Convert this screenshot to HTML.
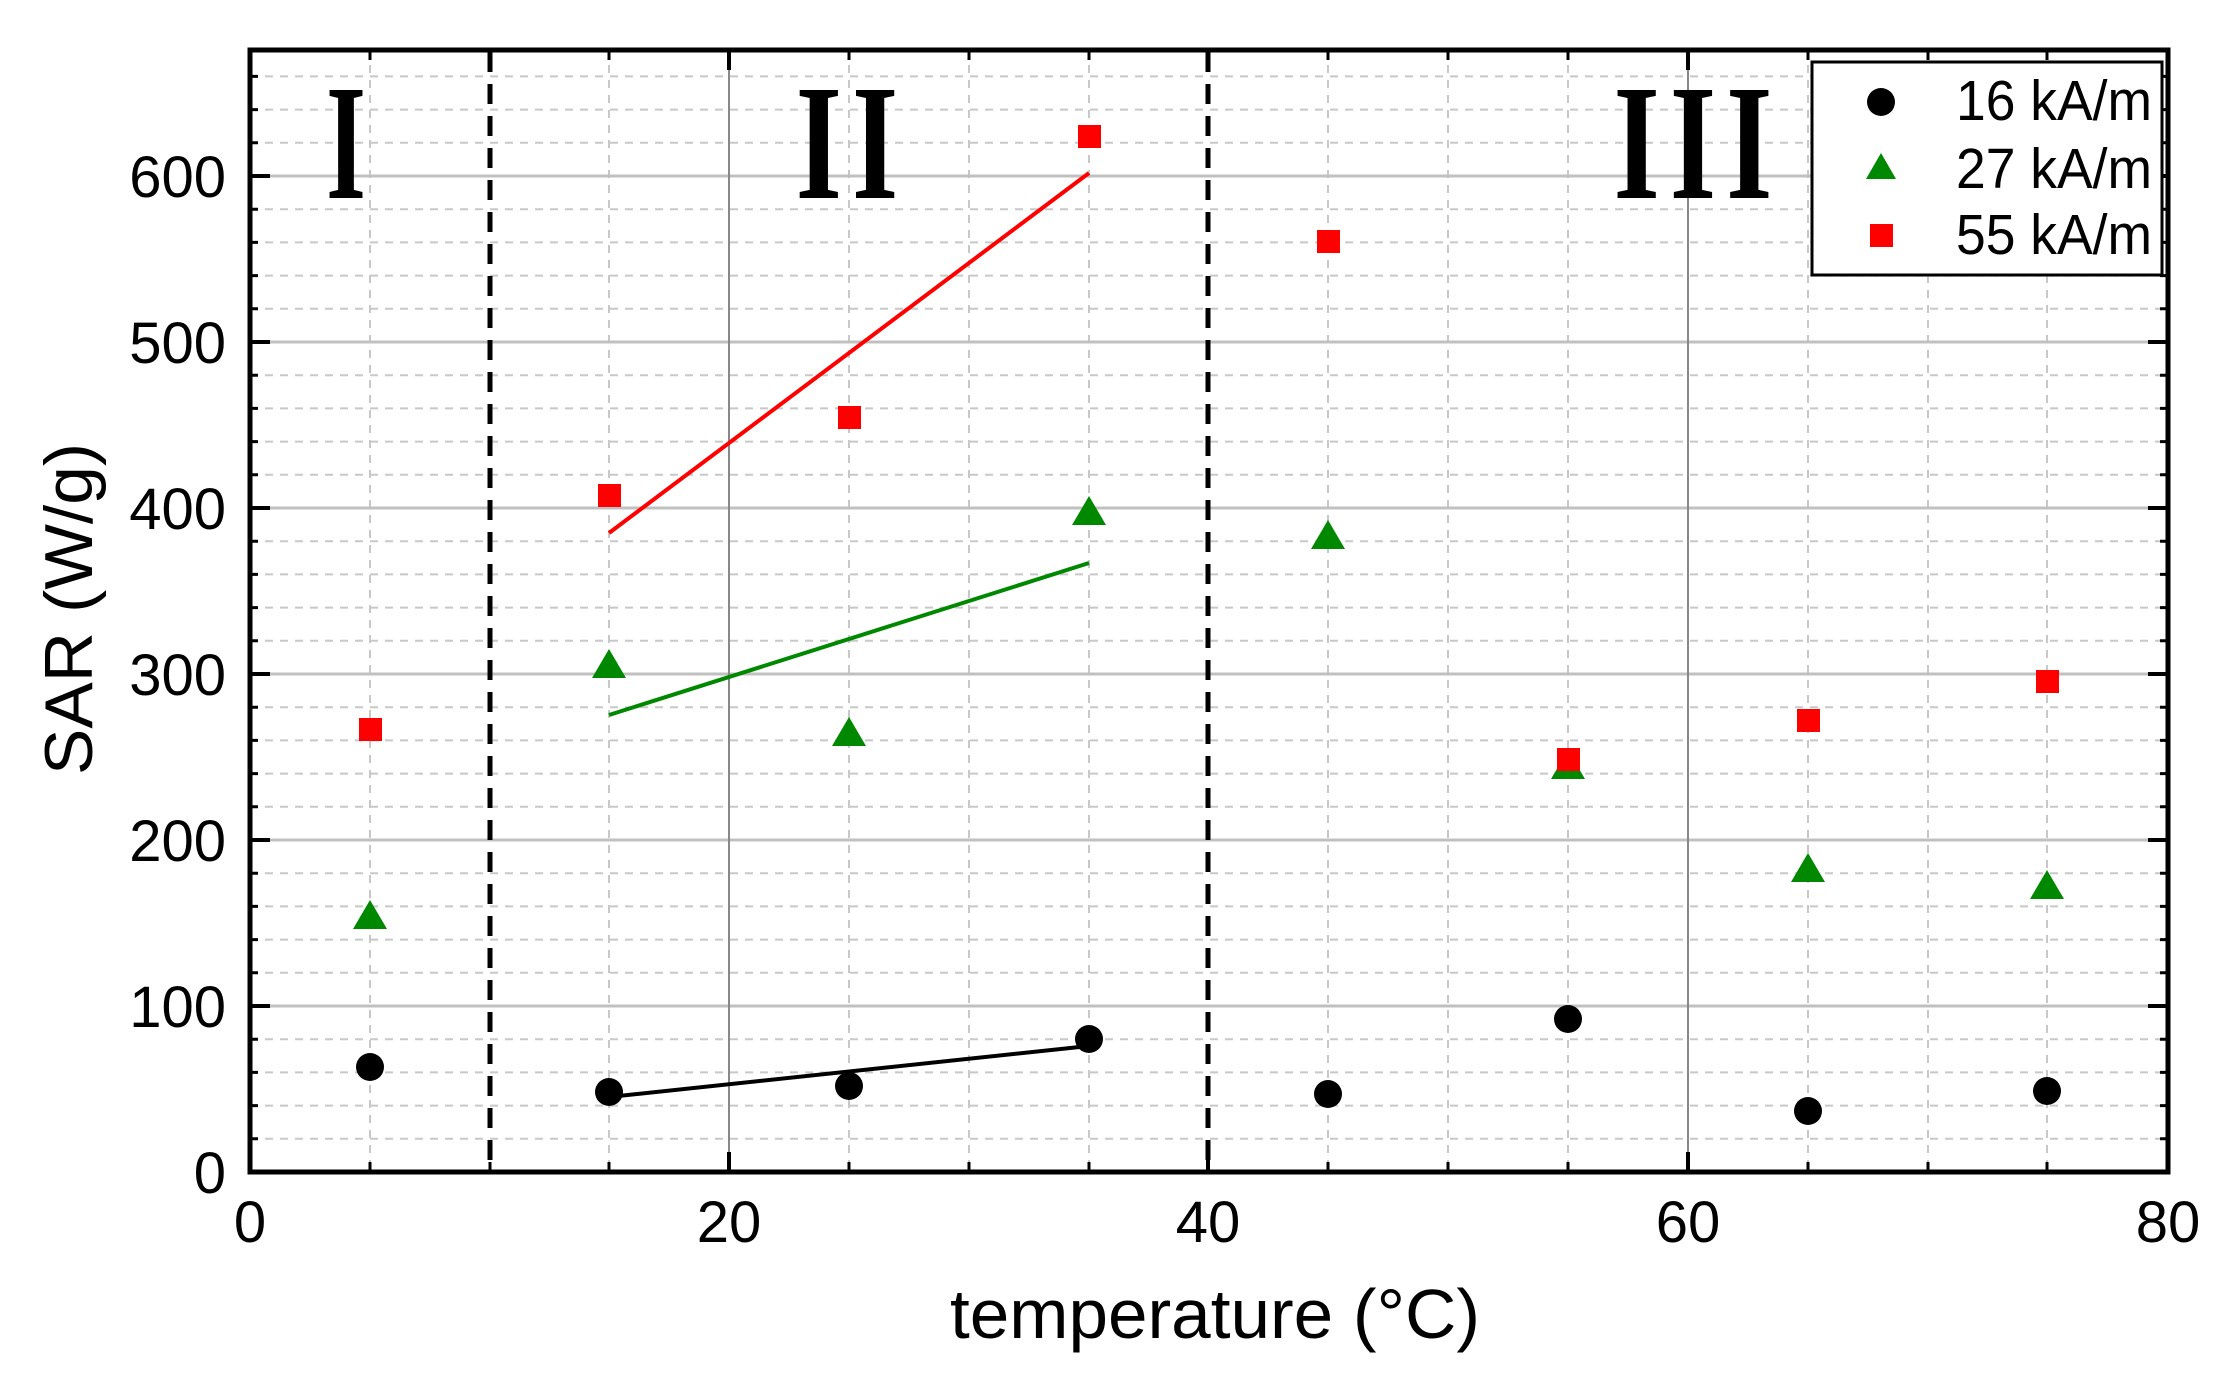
<!DOCTYPE html>
<html><head><meta charset="utf-8"><style>body{margin:0;background:#fff}svg{display:block}</style></head>
<body>
<svg width="2230" height="1384" viewBox="0 0 2230 1384" xmlns="http://www.w3.org/2000/svg" font-family="Liberation Sans, Arial, sans-serif">
<rect width="2230" height="1384" fill="#fff"/>
<g id="grid">
<g stroke="#c8c8c8" stroke-width="2" stroke-dasharray="8,7">
<line x1="250" x2="2168" y1="1138.8" y2="1138.8"/><line x1="250" x2="2168" y1="1105.6" y2="1105.6"/><line x1="250" x2="2168" y1="1072.4" y2="1072.4"/><line x1="250" x2="2168" y1="1039.2" y2="1039.2"/>
<line x1="250" x2="2168" y1="972.8" y2="972.8"/><line x1="250" x2="2168" y1="939.6" y2="939.6"/><line x1="250" x2="2168" y1="906.4" y2="906.4"/><line x1="250" x2="2168" y1="873.2" y2="873.2"/>
<line x1="250" x2="2168" y1="806.8" y2="806.8"/><line x1="250" x2="2168" y1="773.6" y2="773.6"/><line x1="250" x2="2168" y1="740.4" y2="740.4"/><line x1="250" x2="2168" y1="707.2" y2="707.2"/>
<line x1="250" x2="2168" y1="640.8" y2="640.8"/><line x1="250" x2="2168" y1="607.6" y2="607.6"/><line x1="250" x2="2168" y1="574.4" y2="574.4"/><line x1="250" x2="2168" y1="541.2" y2="541.2"/>
<line x1="250" x2="2168" y1="474.8" y2="474.8"/><line x1="250" x2="2168" y1="441.6" y2="441.6"/><line x1="250" x2="2168" y1="408.4" y2="408.4"/><line x1="250" x2="2168" y1="375.2" y2="375.2"/>
<line x1="250" x2="2168" y1="308.8" y2="308.8"/><line x1="250" x2="2168" y1="275.6" y2="275.6"/><line x1="250" x2="2168" y1="242.4" y2="242.4"/><line x1="250" x2="2168" y1="209.2" y2="209.2"/>
<line x1="250" x2="2168" y1="142.8" y2="142.8"/><line x1="250" x2="2168" y1="109.6" y2="109.6"/><line x1="250" x2="2168" y1="76.4" y2="76.4"/>
</g>
<g stroke="#c8c8c8" stroke-width="2" stroke-dasharray="8,7">
<line y1="50" y2="1172" x1="370" x2="370"/><line y1="50" y2="1172" x1="609" x2="609"/><line y1="50" y2="1172" x1="849" x2="849"/><line y1="50" y2="1172" x1="969" x2="969"/><line y1="50" y2="1172" x1="1089" x2="1089"/>
<line y1="50" y2="1172" x1="1328" x2="1328"/><line y1="50" y2="1172" x1="1448" x2="1448"/><line y1="50" y2="1172" x1="1568" x2="1568"/><line y1="50" y2="1172" x1="1808" x2="1808"/><line y1="50" y2="1172" x1="1928" x2="1928"/><line y1="50" y2="1172" x1="2047" x2="2047"/>
</g>
<g stroke="#c0c0c0" stroke-width="3">
<line x1="250" x2="2168" y1="1006" y2="1006"/><line x1="250" x2="2168" y1="840" y2="840"/><line x1="250" x2="2168" y1="674" y2="674"/><line x1="250" x2="2168" y1="508" y2="508"/><line x1="250" x2="2168" y1="342" y2="342"/><line x1="250" x2="2168" y1="176" y2="176"/>
</g>
<g stroke="#888" stroke-width="2">
<line y1="50" y2="1172" x1="729" x2="729"/><line y1="50" y2="1172" x1="1688" x2="1688"/>
</g>
</g>
<g stroke="#000" stroke-width="5" stroke-dasharray="20,12">
<line x1="490" x2="490" y1="52" y2="1172"/><line x1="1208" x2="1208" y1="52" y2="1172"/>
</g>
<g stroke="#000" stroke-width="4">
<path d="M250 1006h20M250 840h20M250 674h20M250 508h20M250 342h20M250 176h20"/>
<path d="M2168 1006h-20M2168 840h-20M2168 674h-20M2168 508h-20M2168 342h-20M2168 176h-20"/>
<path d="M729 1172v-20M1208 1172v-20M1688 1172v-20M729 50v20M1208 50v20M1688 50v20"/>
</g>
<g stroke="#000" stroke-width="3">
<path d="M250 1138.8h8M250 1105.6h8M250 1072.4h8M250 1039.2h8M250 972.8h8M250 939.6h8M250 906.4h8M250 873.2h8M250 806.8h8M250 773.6h8M250 740.4h8M250 707.2h8M250 640.8h8M250 607.6h8M250 574.4h8M250 541.2h8M250 474.8h8M250 441.6h8M250 408.4h8M250 375.2h8M250 308.8h8M250 275.6h8M250 242.4h8M250 209.2h8M250 142.8h8M250 109.6h8M250 76.4h8"/>
<path d="M2168 1138.8h-8M2168 1105.6h-8M2168 1072.4h-8M2168 1039.2h-8M2168 972.8h-8M2168 939.6h-8M2168 906.4h-8M2168 873.2h-8M2168 806.8h-8M2168 773.6h-8M2168 740.4h-8M2168 707.2h-8M2168 640.8h-8M2168 607.6h-8M2168 574.4h-8M2168 541.2h-8M2168 474.8h-8M2168 441.6h-8M2168 408.4h-8M2168 375.2h-8M2168 308.8h-8M2168 275.6h-8M2168 242.4h-8M2168 209.2h-8M2168 142.8h-8M2168 109.6h-8M2168 76.4h-8"/>
<path d="M370 1172v-10M609 1172v-10M849 1172v-10M969 1172v-10M1089 1172v-10M1328 1172v-10M1448 1172v-10M1568 1172v-10M1808 1172v-10M1928 1172v-10M2047 1172v-10M490 1172v-10"/>
<path d="M370 50v10M490 50v10M609 50v10M849 50v10M969 50v10M1089 50v10M1328 50v10M1448 50v10M1568 50v10M1808 50v10M1928 50v10M2047 50v10"/>
</g>
<rect x="250" y="50" width="1918" height="1122" fill="none" stroke="#000" stroke-width="5"/>
<g font-family="Liberation Serif, serif" font-weight="bold" font-size="165" fill="#000">
<text x="0" y="198" transform="translate(346 0) scale(0.62 1)" text-anchor="middle">I</text>
<text x="0" y="198" transform="translate(852 0) scale(0.72 1)" text-anchor="middle" letter-spacing="14">II</text>
<text x="0" y="198" transform="translate(1698 0) scale(0.72 1)" text-anchor="middle" letter-spacing="14">III</text>
</g>
<line x1="609" y1="533" x2="1089" y2="173" stroke="#ff0000" stroke-width="4"/>
<line x1="609" y1="715" x2="1089" y2="563" stroke="#008800" stroke-width="4"/>
<line x1="609" y1="1097" x2="1089" y2="1046" stroke="#000" stroke-width="4"/>
<g fill="#000">
<circle cx="370" cy="1067" r="14"/><circle cx="609" cy="1092" r="14"/><circle cx="849" cy="1086" r="14"/><circle cx="1089" cy="1039" r="14"/>
<circle cx="1328" cy="1094" r="14"/><circle cx="1568" cy="1019" r="14"/><circle cx="1808" cy="1111" r="14"/><circle cx="2047" cy="1091" r="14"/>
</g>
<g fill="#008800">
<path d="M370 900l17 29h-34z"/><path d="M609 649l17 29h-34z"/><path d="M849 717l17 29h-34z"/><path d="M1089 496l17 29h-34z"/>
<path d="M1328 520l17 29h-34z"/><path d="M1568 750l17 29h-34z"/><path d="M1808 853l17 29h-34z"/><path d="M2047 870l17 29h-34z"/>
</g>
<g fill="#ff0000">
<rect x="359" y="718" width="23" height="23"/><rect x="598" y="484" width="23" height="23"/><rect x="838" y="406" width="23" height="23"/><rect x="1078" y="125" width="23" height="23"/>
<rect x="1317" y="230" width="23" height="23"/><rect x="1557" y="748" width="23" height="23"/><rect x="1797" y="709" width="23" height="23"/><rect x="2036" y="670" width="23" height="23"/>
</g>
<rect x="1812" y="62" width="350" height="213" fill="#fff" stroke="#000" stroke-width="3"/>
<circle cx="1881" cy="102" r="14" fill="#000"/>
<path d="M1881 153l15 26h-30z" fill="#008800"/>
<rect x="1870" y="224" width="23" height="23" fill="#ff0000"/>
<g font-size="57" fill="#000" text-anchor="end">
<text x="2152" y="120" textLength="196" lengthAdjust="spacingAndGlyphs">16 kA/m</text>
<text x="2152" y="188" textLength="196" lengthAdjust="spacingAndGlyphs">27 kA/m</text>
<text x="2152" y="254" textLength="196" lengthAdjust="spacingAndGlyphs">55 kA/m</text>
</g>
<g font-size="58" fill="#000" text-anchor="end">
<text x="226" y="1193">0</text><text x="226" y="1027">100</text><text x="226" y="861">200</text><text x="226" y="695">300</text><text x="226" y="529">400</text><text x="226" y="363">500</text><text x="226" y="197">600</text>
</g>
<g font-size="58" fill="#000" text-anchor="middle">
<text x="250" y="1242">0</text><text x="729" y="1242">20</text><text x="1208" y="1242">40</text><text x="1688" y="1242">60</text><text x="2168" y="1242">80</text>
</g>
<text x="1215" y="1338" font-size="70" text-anchor="middle" textLength="530" lengthAdjust="spacingAndGlyphs">temperature (°C)</text>
<text transform="translate(92 609) rotate(-90)" font-size="68" text-anchor="middle" textLength="332" lengthAdjust="spacingAndGlyphs">SAR (W/g)</text>
</svg>
</body></html>
